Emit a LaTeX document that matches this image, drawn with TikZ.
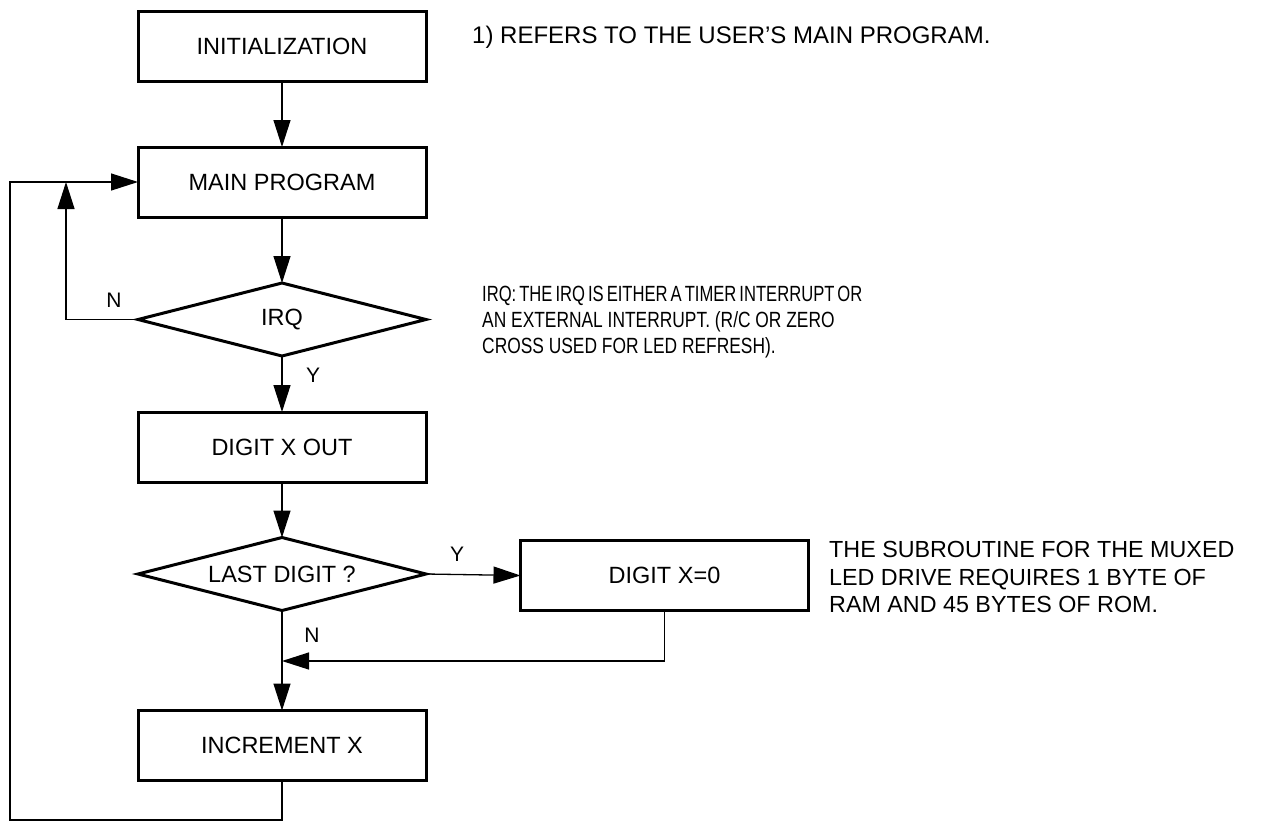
\documentclass[tikz,border=0pt]{standalone}
\usepackage{fontspec}
\setmainfont{Liberation Sans}
\newfontfamily\condfont{Liberation Sans}[FakeStretch=0.79]
\newfontfamily\condfonta{Liberation Sans}[FakeStretch=0.755]
\usetikzlibrary{arrows.meta,shapes.geometric}
\begin{document}
\begin{tikzpicture}[x=1pt,y=-1pt,
  box/.style={draw,line width=3pt,minimum width=288pt,minimum height=70pt,inner sep=0pt,outer sep=0pt,font=\fontsize{23.5}{27}\selectfont},
  dec/.style={draw,diamond,aspect=4,line width=3pt,minimum width=288pt,minimum height=73pt,inner sep=0pt,outer sep=0pt,font=\fontsize{23.5}{27}\selectfont},
  conn/.style={line width=1.3pt},
  arr/.style={conn,-{Triangle[length=27pt,width=17pt]}},
  lbl/.style={font=\fontsize{21}{24}\selectfont,inner sep=0pt},
  note/.style={font=\fontsize{23.3}{27.5}\selectfont,align=left,inner sep=0pt,anchor=west}
]
\useasboundingbox (0,0) rectangle (1263,822);
\node[box] (init) at (282,46) {INITIALIZATION};
\node[box] (main) at (282,182) {MAIN PROGRAM};
\node[dec] (irq) at (282,319.5) {IRQ};
\node[box] (dout) at (282,447) {DIGIT X OUT};
\node[dec] (last) at (282,574) {LAST DIGIT ?};
\node[box] (xzero) at (664.5,575.5) {DIGIT X=0};
\node[box] (inc) at (282,745.5) {INCREMENT X};

\coordinate (nt) at (66,182);
\coordinate (j) at (282,661);
\coordinate (bl) at (10,820);

\draw[arr] (init) -- (main);
\draw[arr] (main) -- (irq);
\draw[arr] (irq.west) -| (nt);
\draw[arr] (irq) -- (dout);
\draw[arr] (dout) -- (last);
\draw[arr] (last.east) -- (xzero.west);
\draw[arr] (last.south) -- (inc.north);
\draw[arr] (xzero.south) |- (j);
\draw[arr] (inc.south) |- (bl) |- (main.west);

\node[lbl] (ln1) at (114,300) {N};
\node[lbl] (ly1) at (313,375) {Y};
\node[lbl] (ly2) at (457,554) {Y};
\node[lbl] (ln2) at (312,635) {N};

\node[note,font=\fontsize{24}{28}\selectfont] (n1) at (472,37) {1) REFERS TO THE USER’S MAIN PROGRAM.};
\node[note,font=\condfont\fontsize{22}{26}\selectfont] (n2) at (482,322) {{\condfonta\spaceskip=3pt IRQ: THE IRQ IS EITHER A TIMER INTERRUPT OR}\\AN EXTERNAL INTERRUPT. (R/C OR ZERO\\CROSS USED FOR LED REFRESH).};
\node[note] (n3) at (829,577) {THE SUBROUTINE FOR THE MUXED\\LED DRIVE REQUIRES 1 BYTE OF\\RAM AND 45 BYTES OF ROM.};
\end{tikzpicture}
\end{document}
